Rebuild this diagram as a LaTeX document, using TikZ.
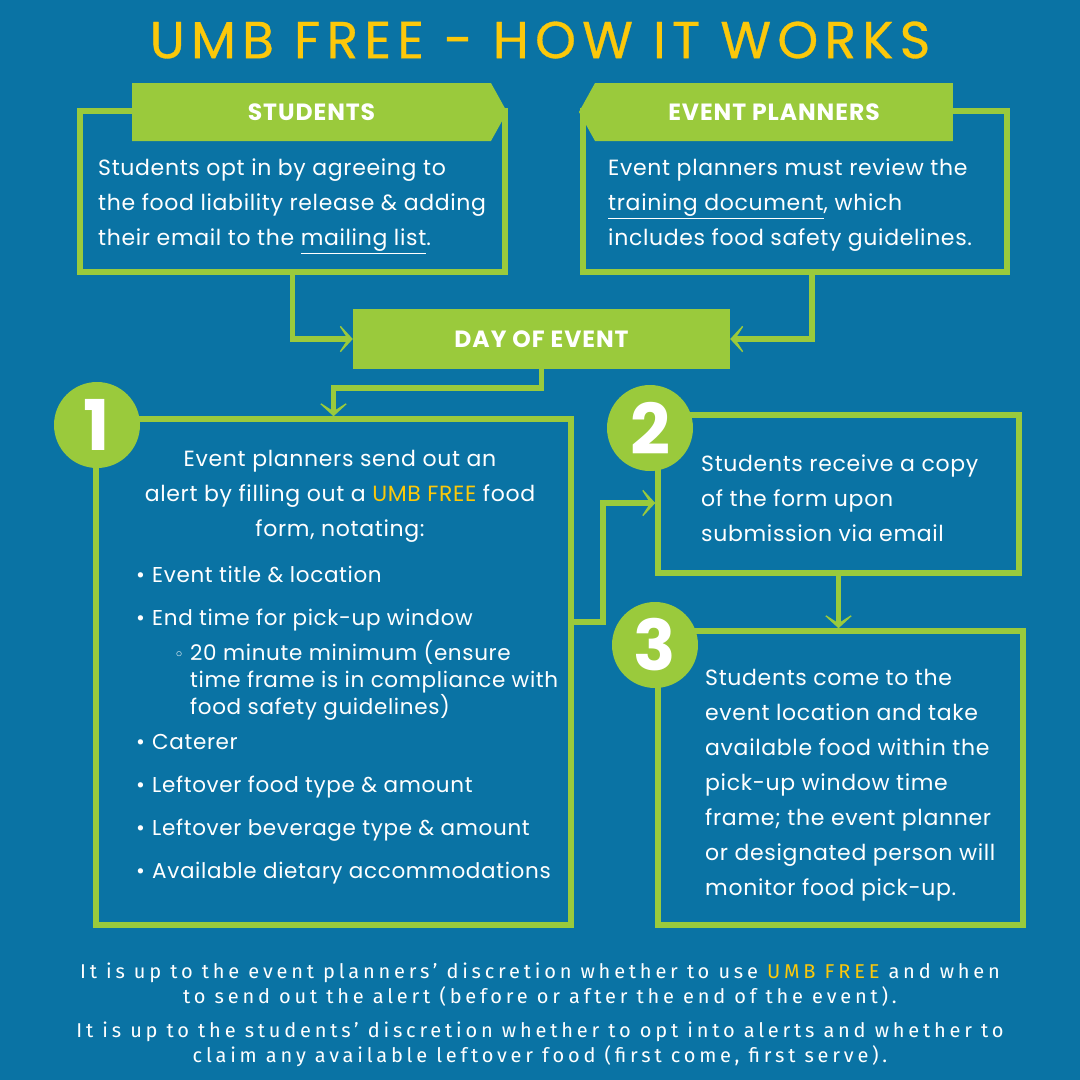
\documentclass[tikz,border=0pt]{standalone}
\usepackage{fontspec}
\setmainfont{Poppins}
\newfontfamily\titlefont{Poppins}[LetterSpace=12,FakeBold=0.6]
\newfontfamily\headfont{Poppins}[LetterSpace=4]
\newfontfamily\bodyfont{Poppins}[LetterSpace=3]
\newfontfamily\notefont{Fira Sans}[LetterSpace=19]
\newfontfamily\symfont{DejaVu Sans}
\usetikzlibrary{arrows.meta,shapes.symbols}
\definecolor{umbblue}{RGB}{10,115,164}
\definecolor{umbgreen}{RGB}{154,202,60}
\definecolor{umbgold}{RGB}{252,200,10}
\tikzset{
  frame/.style={draw=umbgreen, line width=5.5pt},
  banner/.style={signal, fill=umbgreen, text=white, inner sep=0pt,
    signal pointer angle=122, minimum height=58pt,
    font=\headfont\bfseries\fontsize{23.5}{25}\selectfont},
  numdot/.style={circle, fill=umbgreen, text=white, inner sep=0pt,
    minimum size=86pt, font=\bfseries\fontsize{70}{70}\selectfont},
  body/.style={text=white, inner sep=0pt, anchor=north west, align=left,
    font=\bodyfont\fontsize{22}{35}\selectfont},
  note/.style={text=white, inner sep=0pt, anchor=north, align=center,
    font=\notefont\fontsize{20}{25}\selectfont},
  flow/.style={umbgreen, line width=5.5pt,
    -{Stealth[length=17pt,width=37pt,inset=12pt]}},
}
\begin{document}
\begin{tikzpicture}[x=1pt,y=-1pt]
\fill[umbblue] (0,0) rectangle (1080,1080);
\node[text=umbgold, font=\titlefont\fontsize{52}{52}\selectfont] (title) at (540,40) {UMB FREE - HOW IT WORKS};

% top boxes
\node[frame, minimum width=425pt, minimum height=161pt] (stud) at (292.5,191.5) {};
\node[banner, signal to=east, minimum width=375pt] (studhead) at (311.5,112) {STUDENTS};
\node[body] (studtext) at (98,159) {Students opt in by agreeing to\\the food liability release \& adding\\their email to the \underline{mailing list}.};

\node[frame, minimum width=424pt, minimum height=161pt] (plan) at (795,191.5) {};
\node[banner, signal to=west, minimum width=374pt] (planhead) at (774,112) {EVENT PLANNERS};
\node[body] (plantext) at (608,159) {Event planners must review the\\\underline{training document}, which\\includes food safety guidelines.};

\node[fill=umbgreen, text=white, minimum width=377pt, minimum height=60pt,
  font=\headfont\bfseries\fontsize{23.5}{25}\selectfont] (day) at (541.5,339) {DAY OF EVENT};

% steps
\node[frame, minimum width=475pt, minimum height=506pt] (one) at (333.5,672) {};
\node[frame, minimum width=361pt, minimum height=158pt] (two) at (838.5,494) {};
\node[frame, minimum width=365pt, minimum height=294pt] (three) at (840.5,778) {};
\node[numdot] (n1) at (97,425) {1};
\node[numdot] (n2) at (650,428) {2};
\node[numdot] (n3) at (655,645) {3};

\node[body, anchor=north, align=center] (onetext) at (340,450) {Event planners send out an\\alert by filling out a \textcolor{umbgold}{UMB FREE} food\\form, notating:};
\node[body, font=\bodyfont\fontsize{21.5}{27}\selectfont] (onelist) at (136,566) {%
\makebox[16pt][l]{•}Event title \& location\\[16pt]
\makebox[16pt][l]{•}End time for pick-up window\\[8pt]
\hspace*{38pt}\makebox[16pt][l]{\symfont\fontsize{17}{17}\selectfont ◦}20 minute minimum (ensure\\
\hspace*{54pt}time frame is in compliance with\\
\hspace*{54pt}food safety guidelines)\\[8pt]
\makebox[16pt][l]{•}Caterer\\[16pt]
\makebox[16pt][l]{•}Leftover food type \& amount\\[16pt]
\makebox[16pt][l]{•}Leftover beverage type \& amount\\[16pt]
\makebox[16pt][l]{•}Available dietary accommodations};
\node[body] (twotext) at (701,455) {Students receive a copy\\of the form upon\\submission via email};
\node[body] (threetext) at (705,669) {Students come to the\\event location and take\\available food within the\\pick-up window time\\frame; the event planner\\or designated person will\\monitor food pick-up.};

% connectors
\draw[flow] (stud.south) |- (day.west);
\draw[flow] ([xshift=17pt]plan.south) |- (day.east);
\draw[flow] (day.south) -- ++(0,19) -| (one.north);
\draw[flow] ([yshift=50pt]one.east) -- ++(29,0) |- ([yshift=-9pt]two.west);
\draw[flow] (two.south) -- (two.south |- three.north);

% notes
\node[note] (note1) at (540,963) {It is up to the event planners’ discretion whether to use \textcolor{umbgold}{UMB FREE} and when\\to send out the alert (before or after the end of the event).};
\node[note] (note2) at (540,1022) {It is up to the students’ discretion whether to opt into alerts and whether to\\claim any available leftover food (first come, first serve).};
\end{tikzpicture}
\end{document}
